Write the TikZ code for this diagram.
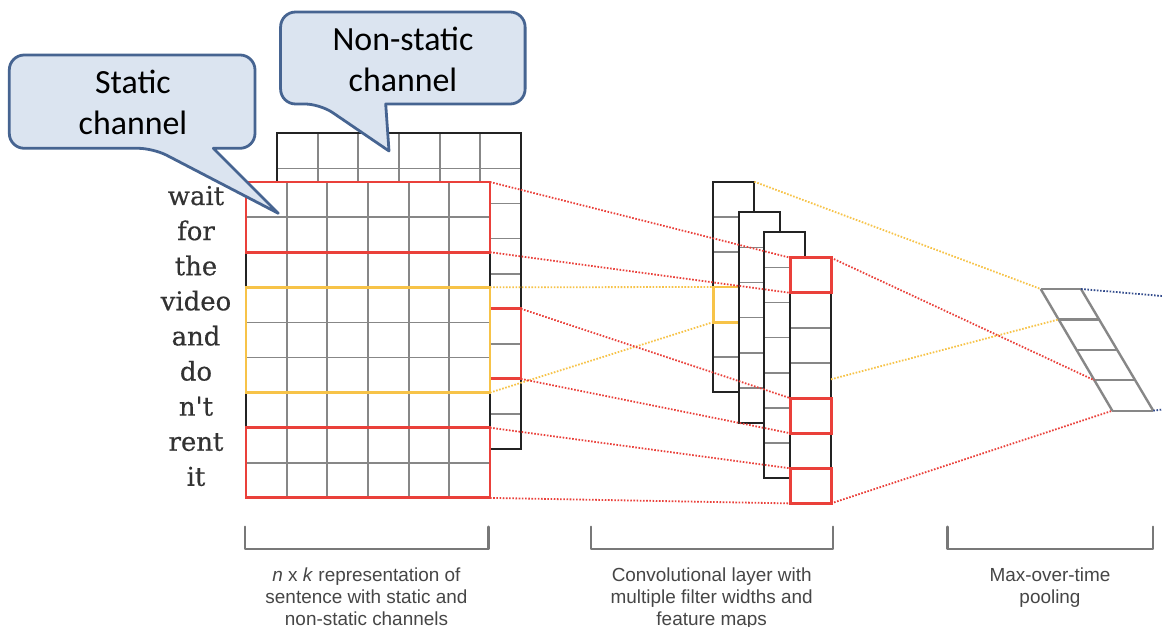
\documentclass[tikz,border=0pt]{standalone}
\usepackage{fontspec}
\newfontfamily\wordfont[FakeBold=0.4]{DejaVu Serif}
\newfontfamily\calfont{Carlito}
\newfontfamily\labfont{Liberation Sans}
\definecolor{cred}{RGB}{234,64,58}
\definecolor{cyel}{RGB}{247,195,72}
\definecolor{cblue}{RGB}{50,75,140}
\definecolor{cgrid}{RGB}{135,135,135}
\definecolor{cborder}{RGB}{35,35,35}
\definecolor{cfill}{RGB}{219,228,240}
\definecolor{cedge}{RGB}{70,100,145}
\definecolor{cword}{RGB}{50,50,50}
\definecolor{clab}{RGB}{70,70,70}
\definecolor{cbrack}{RGB}{120,120,120}
\definecolor{cpool}{RGB}{135,135,135}
\tikzset{
  gridline/.style={cgrid,line width=1.7},
  border/.style={cborder,line width=2.2},
  redbox/.style={cred,line width=3},
  yelbox/.style={cyel,line width=3},
  reddot/.style={cred,line width=1.8,dash pattern=on 1.6pt off 1.6pt},
  yeldot/.style={cyel,line width=1.8,dash pattern=on 1.6pt off 1.6pt},
  bluedot/.style={cblue,line width=1.8,dash pattern=on 1.6pt off 1.6pt},
  callout/.style={fill=cfill,draw=cedge,line width=2.8,line join=round},
  calltext/.style={font=\calfont\fontsize{34}{40}\selectfont,inner sep=0,anchor=base},
  word/.style={font=\wordfont\fontsize{26}{30}\selectfont,text=cword,inner sep=0,anchor=base},
  lab/.style={font=\labfont\fontsize{19}{22}\selectfont,text=clab,inner sep=0,anchor=base},
  bracket/.style={cbrack,line width=2.4,line join=round,line cap=round},
  poolline/.style={cpool,line width=2.4}
}
\newcommand\featmap[4]{% x, y, ncells, ncells-1
  \fill[white] (#1,#2) rectangle ++(41,{#3*35.1});
  \foreach \k in {1,...,#4} \draw[gridline] (#1,{#2+\k*35.1}) -- ++(41,0);
  \draw[border] (#1,#2) rectangle ++(41,{#3*35.1});
}
\begin{document}
\begin{tikzpicture}[x=1bp,y=-1bp]
\useasboundingbox[fill=white] (0,0) rectangle (1162,627);
\def\cw{40.667}
\def\rh{35.1}
% back (non-static) matrix
\fill[white] (277,133.3) rectangle ++(244,315.9);
\foreach \i in {1,...,5} \draw[gridline] ({277+\i*\cw},133.3) -- ++(0,315.9);
\foreach \j in {1,...,8} \draw[gridline] (277,{133.3+\j*\rh}) -- ++(244,0);
\draw[border] (277,133.3) rectangle ++(244,315.9);
\draw[redbox] (490,308.8) rectangle (521,378.9);
% front (static) matrix
\fill[white] (246,182) rectangle ++(244,315.9);
\foreach \i in {1,...,5} \draw[gridline] ({246+\i*\cw},182) -- ++(0,315.9);
\foreach \j in {1,...,8} \draw[gridline] (246,{182+\j*\rh}) -- ++(244,0);
\draw[border] (246,182) rectangle ++(244,315.9);
\draw[redbox] (246,182) rectangle (490,252.2);
\draw[redbox] (246,427.7) rectangle (490,497.9);
\draw[yelbox] (246,287.3) rectangle (490,392.6);
% words
\foreach \w [count=\n from 0] in {wait,for,the,video,and,do,n't,rent,it}
  \node[word] (w\n) at (196,{205+\n*35.1}) {\w};
% feature maps
\featmap{713.3}{181.7}{6}{5}
\draw[yelbox] (713.3,287) rectangle (754.3,322.1);
\featmap{739.3}{212.3}{6}{5}
\featmap{764.3}{232.3}{7}{6}
\featmap{790}{257.7}{7}{6}
\draw[redbox] (790,257.7) rectangle (831,292.8);
\draw[redbox] (790,398.1) rectangle (831,433.2);
\draw[redbox] (790,468.3) rectangle (831,503.4);
% pooling
\foreach \k in {0,...,4} {
  \coordinate (pl\k) at ({1040.7+\k*17.9},{289+\k*30.43});
  \coordinate (pr\k) at ({1081+\k*18.07},{289+\k*30.43});
  \draw[poolline] (pl\k) -- (pr\k);
}
\draw[poolline] (pl0) -- (pl4);
\draw[poolline] (pr0) -- (pr4);
% coordinates
\coordinate (sA) at (490,182);
\coordinate (sB) at (490,252.2);
\coordinate (sC) at (490,287.3);
\coordinate (sD) at (490,392.6);
\coordinate (sE) at (521,308.8);
\coordinate (sF) at (521,378.9);
\coordinate (sG) at (490,427.7);
\coordinate (sH) at (490,497.9);
\coordinate (mA) at (790,257.7);
\coordinate (mB) at (790,292.8);
\coordinate (mC) at (713.3,287);
\coordinate (mD) at (713.3,322.1);
\coordinate (mE) at (790,398.1);
\coordinate (mF) at (790,433.2);
\coordinate (mG) at (790,468.3);
\coordinate (mH) at (790,503.4);
\coordinate (qA) at (754.3,181.7);
\coordinate (qB) at (831,379.3);
\coordinate (qC) at (831,257.7);
\coordinate (qD) at (831,503.4);
\coordinate (oA) at (1162,296);
\coordinate (oB) at (1162,409.5);
% dotted connectors
\draw[reddot] (sA) -- (mA);
\draw[reddot] (sB) -- (mB);
\draw[yeldot] (sC) -- (mC);
\draw[yeldot] (sD) -- (mD);
\draw[reddot] (sE) -- (mE);
\draw[reddot] (sF) -- (mF);
\draw[reddot] (sG) -- (mG);
\draw[reddot] (sH) -- (mH);
\draw[yeldot] (qA) -- (pl0);
\draw[yeldot] (qB) -- (pl1);
\draw[reddot] (qC) -- (pl3);
\draw[reddot] (qD) -- (pl4);
\draw[bluedot] (pr0) -- (oA);
\draw[bluedot] (pr4) -- (oB);
% callouts
\draw[callout] (132,55) [rounded corners=15] -- (9.3,55) -- (9.3,148.3) -- (153.3,148.3) [sharp corners] -- (278.3,213.3) -- (213.3,148.3) [rounded corners=15] -- (255,148.3) -- (255,55) -- cycle;
\node[calltext] (st1) at (133,93.3) {Static};
\node[calltext] (st2) at (133,135) {channel};
\draw[callout] (403,12) [rounded corners=15] -- (280.6,12) -- (280.6,104) -- (320,104) [sharp corners] -- (389,151) -- (385.7,104) [rounded corners=15] -- (525.1,104) -- (525.1,12) -- cycle;
\node[calltext] (ns1) at (403,51) {Non-static};
\node[calltext] (ns2) at (403,92) {channel};
% brackets
\draw[bracket] (245,526.7) -- (245,549.3) -- (488.3,549.3) -- (488.3,526.7);
\draw[bracket] (590.7,526.7) -- (590.7,549.3) -- (832.7,549.3) -- (832.7,526.7);
\draw[bracket] (947.3,526.7) -- (947.3,549.3) -- (1152.7,549.3) -- (1152.7,526.7);
% labels
\node[lab] (a1) at (366.5,581) {\textit{n} x \textit{k} representation of};
\node[lab] (a2) at (366.5,603) {sentence with static and};
\node[lab] (a3) at (366.5,625) {non-static channels};
\node[lab] (b1) at (711.7,581) {Convolutional layer with};
\node[lab] (b2) at (711.7,603) {multiple filter widths and};
\node[lab] (b3) at (711.7,625) {feature maps};
\node[lab] (c1) at (1050,581) {Max-over-time};
\node[lab] (c2) at (1050,603) {pooling};
\end{tikzpicture}
\end{document}
